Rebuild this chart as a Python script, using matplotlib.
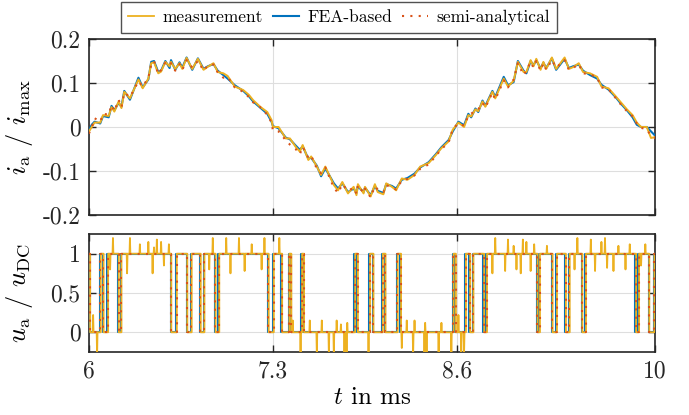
import matplotlib
matplotlib.use("Agg")
import matplotlib.pyplot as plt

plt.rcParams['font.family'] = ['cmr10', 'DejaVu Serif']
plt.rcParams['mathtext.fontset'] = 'cm'
plt.rcParams['axes.unicode_minus'] = False
plt.rcParams['axes.formatter.use_mathtext'] = True

# --- phase current, normalised ---
t_cur = [6.00, 6.02, 6.04, 6.08, 6.10, 6.14, 6.16, 6.18, 6.21, 6.23,
         6.25, 6.29, 6.35, 6.38, 6.42, 6.44, 6.46, 6.49, 6.51, 6.54,
         6.57, 6.58, 6.61, 6.64, 6.66, 6.69, 6.73, 6.77, 6.81, 6.84,
         6.88, 6.91, 6.95, 6.98, 7.03, 7.09, 7.13, 7.16, 7.21, 7.26,
         7.29, 7.30, 7.34, 7.39, 7.42, 7.46, 7.49, 7.51, 7.55, 7.57,
         7.61, 7.64, 7.67, 7.73, 7.76, 7.79, 7.83, 7.87, 7.89, 7.90,
         7.94, 7.95, 7.99, 8.02, 8.04, 8.08, 8.10, 8.14, 8.17, 8.21,
         8.25, 8.30, 8.34, 8.40, 8.45, 8.49, 8.54, 8.57, 8.61, 8.65,
         8.68, 8.70, 8.73, 8.75, 8.78, 8.80, 8.85, 8.87, 8.93, 8.96,
         9.00, 9.03, 9.07, 9.09, 9.12, 9.14, 9.16, 9.19, 9.21, 9.23,
         9.27, 9.30, 9.36, 9.39, 9.42, 9.46, 9.49, 9.54, 9.59, 9.62,
         9.67, 9.72, 9.76, 9.80, 9.84, 9.87, 9.90, 9.94, 9.97, 10.0]

i_meas = [-0.011, 0.000, 0.010, 0.010, 0.027, 0.025, 0.045, 0.035, 0.058, 0.043,
          0.080, 0.065, 0.108, 0.088, 0.110, 0.145, 0.147, 0.122, 0.126, 0.148,
          0.138, 0.148, 0.132, 0.145, 0.132, 0.157, 0.132, 0.155, 0.130, 0.137,
          0.145, 0.125, 0.122, 0.116, 0.092, 0.084, 0.073, 0.061, 0.046, 0.034,
          0.016, 0.000, 0.000, -0.026, -0.026, -0.045, -0.056, -0.041, -0.075, -0.067,
          -0.090, -0.109, -0.090, -0.132, -0.144, -0.125, -0.151, -0.136, -0.155, -0.130,
          -0.151, -0.136, -0.158, -0.130, -0.148, -0.153, -0.128, -0.136, -0.144, -0.117,
          -0.120, -0.109, -0.090, -0.082, -0.064, -0.048, -0.033, -0.006, 0.010, 0.000,
          0.027, 0.024, 0.040, 0.036, 0.058, 0.046, 0.080, 0.065, 0.110, 0.092,
          0.105, 0.148, 0.125, 0.125, 0.152, 0.138, 0.155, 0.130, 0.148, 0.132,
          0.158, 0.132, 0.158, 0.132, 0.136, 0.145, 0.125, 0.122, 0.114, 0.092,
          0.088, 0.070, 0.055, 0.040, 0.027, 0.010, 0.000, 0.000, -0.025, -0.023]

i_fea = [-0.008, 0.005, 0.012, 0.008, 0.025, 0.022, 0.048, 0.038, 0.055, 0.046,
         0.082, 0.062, 0.112, 0.090, 0.108, 0.148, 0.150, 0.125, 0.128, 0.150,
         0.134, 0.152, 0.130, 0.147, 0.135, 0.158, 0.130, 0.156, 0.132, 0.138,
         0.143, 0.128, 0.118, 0.110, 0.095, 0.082, 0.070, 0.058, 0.044, 0.030,
         0.012, 0.002, -0.003, -0.024, -0.028, -0.042, -0.052, -0.044, -0.072, -0.070,
         -0.088, -0.112, -0.094, -0.128, -0.140, -0.128, -0.148, -0.140, -0.150, -0.135,
         -0.148, -0.138, -0.155, -0.134, -0.145, -0.150, -0.130, -0.134, -0.140, -0.120,
         -0.116, -0.106, -0.092, -0.080, -0.062, -0.046, -0.030, -0.010, 0.012, 0.004,
         0.030, 0.022, 0.042, 0.034, 0.060, 0.048, 0.082, 0.068, 0.114, 0.095,
         0.102, 0.150, 0.128, 0.122, 0.150, 0.140, 0.152, 0.133, 0.146, 0.134,
         0.156, 0.130, 0.155, 0.134, 0.138, 0.142, 0.128, 0.118, 0.110, 0.096,
         0.085, 0.068, 0.052, 0.038, 0.022, 0.005, 0.000, 0.000, -0.010, -0.020]

i_semi = [-0.015, -0.002, 0.020, 0.012, 0.030, 0.028, 0.050, 0.036, 0.062, 0.045,
          0.078, 0.068, 0.104, 0.092, 0.112, 0.142, 0.150, 0.120, 0.130, 0.146,
          0.140, 0.145, 0.128, 0.143, 0.130, 0.152, 0.135, 0.150, 0.128, 0.140,
          0.142, 0.124, 0.112, 0.114, 0.090, 0.080, 0.068, 0.056, 0.045, 0.028,
          0.010, -0.008, -0.010, -0.030, -0.040, -0.050, -0.062, -0.045, -0.070, -0.065,
          -0.095, -0.105, -0.092, -0.138, -0.150, -0.130, -0.145, -0.138, -0.152, -0.132,
          -0.150, -0.140, -0.160, -0.135, -0.142, -0.148, -0.132, -0.138, -0.142, -0.122,
          -0.118, -0.110, -0.095, -0.085, -0.066, -0.050, -0.036, -0.004, 0.008, 0.003,
          0.025, 0.030, 0.038, 0.040, 0.055, 0.044, 0.078, 0.062, 0.106, 0.090,
          0.108, 0.145, 0.118, 0.128, 0.148, 0.135, 0.150, 0.128, 0.145, 0.130,
          0.152, 0.135, 0.152, 0.130, 0.134, 0.143, 0.122, 0.120, 0.112, 0.090,
          0.086, 0.066, 0.050, 0.036, 0.024, 0.008, -0.002, -0.005, -0.020, -0.025]

# --- phase voltage, normalised: switching instants (ms), start level 1 ---
t_start, t_end = 6.0, 10.0
fea_edges = [6.005, 6.078, 6.100, 6.130, 6.207, 6.224, 6.577, 6.615, 6.690, 6.720,
             6.785, 6.810, 6.890, 6.915, 7.265, 7.300, 7.360, 7.410, 7.425, 7.500,
             7.515, 7.875, 7.895, 7.980, 8.005, 8.070, 8.090, 8.175, 8.200, 8.570,
             8.587, 8.657, 8.688, 8.710, 8.787, 8.806, 9.164, 9.180, 9.270, 9.300,
             9.364, 9.390, 9.480, 9.505, 9.860, 9.880, 9.953, 9.988]
semi_edges = [6.007, 6.082, 6.103, 6.134, 6.210, 6.228, 6.580, 6.619, 6.693, 6.724,
              6.788, 6.814, 6.893, 6.919, 7.268, 7.304, 7.363, 7.414, 7.428, 7.504,
              7.518, 7.879, 7.898, 7.984, 8.008, 8.074, 8.093, 8.179, 8.203, 8.574,
              8.590, 8.661, 8.691, 8.714, 8.790, 8.810, 9.167, 9.184, 9.273, 9.304,
              9.367, 9.394, 9.483, 9.509, 9.863, 9.884, 9.956, 9.992]
meas_edges = [6.009, 6.084, 6.104, 6.136, 6.211, 6.230, 6.582, 6.621, 6.695, 6.726,
              6.790, 6.816, 6.895, 6.921, 7.270, 7.306, 7.365, 7.416, 7.430, 7.506,
              7.520, 7.881, 7.900, 7.986, 8.010, 8.076, 8.095, 8.181, 8.205, 8.576,
              8.592, 8.663, 8.693, 8.716, 8.792, 8.812, 9.169, 9.186, 9.275, 9.306,
              9.369, 9.396, 9.485, 9.511, 9.865, 9.886, 9.958, 9.994]
spike_t = [6.030, 6.058, 6.150, 6.170, 6.270, 6.290, 6.360, 6.420, 6.450, 6.460,
           6.480, 6.510, 6.530, 6.565, 6.850, 6.875, 6.970, 7.000, 7.060, 7.100,
           7.150, 7.220, 7.240, 7.345, 7.440, 7.495, 7.560, 7.610, 7.645, 7.695,
           7.730, 7.750, 7.780, 7.805, 7.820, 7.825, 7.975, 8.210, 8.245, 8.290,
           8.300, 8.370, 8.375, 8.385, 8.470, 8.490, 8.560, 8.610, 8.630, 8.650,
           8.850, 8.870, 8.940, 8.960, 9.000, 9.020, 9.050, 9.065, 9.090, 9.120,
           9.145, 9.235, 9.430, 9.450, 9.545, 9.575, 9.620, 9.645, 9.660, 9.705,
           9.740, 9.790, 9.820, 9.900, 9.930]
spike_v = [0.22, -0.30, 0.80, 1.20, 0.75, 1.20, 1.12, 1.15, 0.75, 1.08,
           1.18, 1.15, 0.85, 1.12, 0.80, 1.20, 1.20, 0.75, 1.20, 0.78,
           1.12, 0.80, 1.20, 1.20, 0.15, -0.30, 0.15, -0.30, 0.15, -0.30,
           -0.30, 0.15, 0.10, -0.30, -0.30, 0.12, -0.30, -0.20, 0.15, -0.30,
           0.15, -0.30, 0.12, -0.28, -0.30, 0.12, -0.30, 0.22, -0.30, -0.25,
           0.75, 1.20, 0.78, 1.18, 1.10, 0.80, 0.75, 1.18, 1.15, 0.78,
           1.12, 1.10, 0.80, 1.20, 1.18, 0.78, 1.15, 1.20, 0.82, 0.78,
           1.10, 0.80, 1.12, 0.85, 1.12]

c_meas = '#EDB120'
c_fea = '#0072BD'
c_semi = '#D95319'


def pwm_trace(edges, level0, sp_t=(), sp_v=(), w=0.003):
    events = [(e, None) for e in edges] + list(zip(sp_t, sp_v))
    events.sort(key=lambda e: e[0])
    ts, vs, lvl = [t_start], [level0], level0
    for t, v in events:
        if v is None:
            ts += [t, t]
            vs += [lvl, 1 - lvl]
            lvl = 1 - lvl
        else:
            ts += [t - w, t, t + w]
            vs += [lvl, v, lvl]
    ts.append(t_end)
    vs.append(lvl)
    return ts, vs


fig = plt.figure(figsize=(6.89, 4.15), dpi=100)
ax1 = fig.add_axes([0.129, 0.482, 0.822, 0.424])
ax2 = fig.add_axes([0.129, 0.152, 0.822, 0.284])

ax1.plot(t_cur, i_fea, color=c_fea, lw=1.5, zorder=3)
ax1.plot(t_cur, i_meas, color=c_meas, lw=1.4, zorder=4)
ax1.plot(t_cur, i_semi, color=c_semi, lw=1.5, ls=(0, (1, 3)), zorder=5)

tf, vf = pwm_trace(fea_edges, 1)
tm, vm = pwm_trace(meas_edges, 1, spike_t, spike_v)
ts_, vs_ = pwm_trace(semi_edges, 1)
ax2.plot(tf, vf, color=c_fea, lw=1.5, zorder=3)
ax2.plot(tm, vm, color=c_meas, lw=1.3, zorder=4)
ax2.plot(ts_, vs_, color=c_semi, lw=1.5, ls=(0, (1, 3)), zorder=5)

x_ticks = [6, 7.3, 8.6, 10]
x_labels = ['6', '7.3', '8.6', '10']
for ax in (ax1, ax2):
    ax.set_xlim(6, 10)
    ax.set_xticks(x_ticks)
    ax.grid(True, color='#dedede', lw=0.8)
    ax.set_axisbelow(True)
    ax.tick_params(direction='in', top=True, right=True, length=5, width=1,
                   labelsize=17, colors='#262626', pad=6)
    for s in ax.spines.values():
        s.set_linewidth(1.2)
        s.set_color('#262626')

ax1.set_ylim(-0.2, 0.2)
ax1.set_yticks([-0.2, -0.1, 0, 0.1, 0.2])
ax1.set_yticklabels(['-0.2', '-0.1', '0', '0.1', '0.2'])
ax1.set_xticklabels([])
ax1.set_ylabel(r'$i_\mathrm{a}$ / $i_\mathrm{max}$', fontsize=19)

ax2.set_ylim(-0.25, 1.25)
ax2.set_yticks([0, 0.5, 1])
ax2.set_yticklabels(['0', '0.5', '1'])
ax2.set_xticklabels(x_labels)
ax2.set_ylabel(r'$u_\mathrm{a}$ / $u_\mathrm{DC}$', fontsize=19)
ax2.set_xlabel(r'$t$ in ms', fontsize=18, labelpad=3)
ax1.yaxis.set_label_coords(-0.095, 0.5)
ax2.yaxis.set_label_coords(-0.095, 0.5)

handles = [plt.Line2D([], [], color=c_meas, lw=1.3),
           plt.Line2D([], [], color=c_fea, lw=1.5),
           plt.Line2D([], [], color=c_semi, lw=1.5, ls=(0, (1, 3)))]
leg = fig.legend(handles, ['measurement', 'FEA-based', 'semi-analytical'],
                 loc='upper center', bbox_to_anchor=(0.492, 0.995), ncol=3,
                 fontsize=12.5, frameon=True, fancybox=False, edgecolor='#262626',
                 handlelength=1.5, columnspacing=0.6, handletextpad=0.45,
                 borderpad=0.45, borderaxespad=0)
leg.get_frame().set_linewidth(1.0)

fig.savefig('out.png', dpi=100)
